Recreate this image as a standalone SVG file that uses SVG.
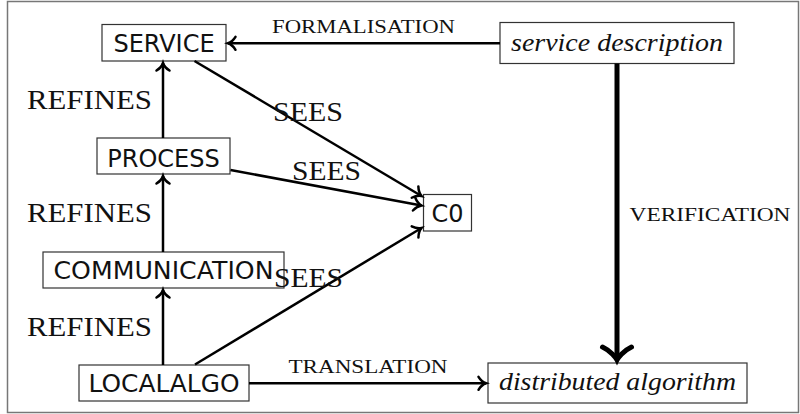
<svg xmlns="http://www.w3.org/2000/svg" width="800" height="414" viewBox="0 0 800 414">
<style>
.box{fill:#fff;stroke:#333;stroke-width:1.2}
.nt{font-family:"DejaVu Sans",sans-serif;font-size:24px;fill:#111;text-anchor:middle}
.it{font-family:"Liberation Serif",serif;font-style:italic;font-size:25px;fill:#111}
.lbl{font-family:"Liberation Serif",serif;font-size:27px;fill:#111}
.sc{font-family:"Liberation Serif",serif;font-size:18px;fill:#111}
.ln{stroke:#000;stroke-width:2.5;fill:none}
.thick{stroke:#000;stroke-width:5;fill:none}
</style>
<defs>
<marker id="ah" markerUnits="userSpaceOnUse" viewBox="-10 -10 12 20" markerWidth="12" markerHeight="20" refX="0" refY="0" orient="auto" overflow="visible">
<path d="M-7.5,-6.5 C-5,-2.5 -1.5,-0.5 0,0 C-1.5,0.5 -5,2.5 -7.5,6.5" fill="none" stroke="#000" stroke-width="2.5" stroke-linecap="round"/>
</marker>
<marker id="ahb" markerUnits="userSpaceOnUse" viewBox="-20 -20 24 40" markerWidth="24" markerHeight="40" refX="0" refY="0" orient="auto" overflow="visible">
<path d="M-13,-14.5 C-9,-6 -2,-1 0,0 C-2,1 -9,6 -13,14.5" fill="none" stroke="#000" stroke-width="5" stroke-linecap="round"/>
</marker>
</defs>
<rect x="7.5" y="1.5" width="791" height="411" fill="#fff" stroke="#777" stroke-width="1.5"/>
<g id="service"><rect class="box" x="102" y="24.5" width="124" height="36.5"/><text class="nt" x="164" y="52">SERVICE</text></g>
<g id="process"><rect class="box" x="97" y="138" width="133" height="36"/><text class="nt" x="163.5" y="166.5">PROCESS</text></g>
<g id="communication"><rect class="box" x="43" y="252" width="241" height="36"/><text class="nt" x="163.5" y="279" textLength="220" lengthAdjust="spacingAndGlyphs">COMMUNICATION</text></g>
<g id="localalgo"><rect class="box" x="79" y="365" width="170" height="36"/><text class="nt" x="164" y="391.5" textLength="151" lengthAdjust="spacingAndGlyphs">LOCALALGO</text></g>
<g id="c0"><rect class="box" x="423.5" y="194.5" width="48" height="36.5"/><text class="nt" x="447.5" y="222">C0</text></g>
<g id="service-description"><rect class="box" x="500" y="22.5" width="234" height="41"/><text class="it" x="511" y="51" textLength="212" lengthAdjust="spacingAndGlyphs">service description</text></g>
<g id="distributed-algorithm"><rect class="box" x="488" y="363" width="259" height="40"/><text class="it" x="499" y="390" textLength="237" lengthAdjust="spacingAndGlyphs">distributed algorithm</text></g>
<g id="connectors">
<line class="ln" x1="163" y1="138" x2="163" y2="63" marker-end="url(#ah)"/>
<line class="ln" x1="163" y1="252" x2="163" y2="176" marker-end="url(#ah)"/>
<line class="ln" x1="163" y1="365" x2="163" y2="290" marker-end="url(#ah)"/>
<line class="ln" x1="500" y1="43.3" x2="228" y2="43.3" marker-end="url(#ah)"/>
<line class="ln" x1="249" y1="383.3" x2="486" y2="383.3" marker-end="url(#ah)"/>
<line class="ln" x1="194.5" y1="61" x2="421.5" y2="196" marker-end="url(#ah)"/>
<line class="ln" x1="230.5" y1="170" x2="421.5" y2="205.5" marker-end="url(#ah)"/>
<line class="ln" x1="195" y1="364.5" x2="421.5" y2="228" marker-end="url(#ah)"/>
<line class="thick" x1="617" y1="63.5" x2="617" y2="360" marker-end="url(#ahb)"/>
<text class="lbl" x="27" y="109" textLength="125" lengthAdjust="spacingAndGlyphs">REFINES</text>
<text class="lbl" x="27" y="222" textLength="125" lengthAdjust="spacingAndGlyphs">REFINES</text>
<text class="lbl" x="27" y="336" textLength="125" lengthAdjust="spacingAndGlyphs">REFINES</text>
<text class="lbl" x="273" y="121" textLength="70" lengthAdjust="spacingAndGlyphs">SEES</text>
<text class="lbl" x="292" y="180" textLength="69" lengthAdjust="spacingAndGlyphs">SEES</text>
<text class="lbl" x="274" y="286.5" textLength="69" lengthAdjust="spacingAndGlyphs">SEES</text>
<text class="sc" x="272" y="33" textLength="183" lengthAdjust="spacingAndGlyphs">FORMALISATION</text>
<text class="sc" x="629.5" y="220.5" textLength="161" lengthAdjust="spacingAndGlyphs">VERIFICATION</text>
<text class="sc" x="288.5" y="373" textLength="159" lengthAdjust="spacingAndGlyphs">TRANSLATION</text>
</g>
</svg>
